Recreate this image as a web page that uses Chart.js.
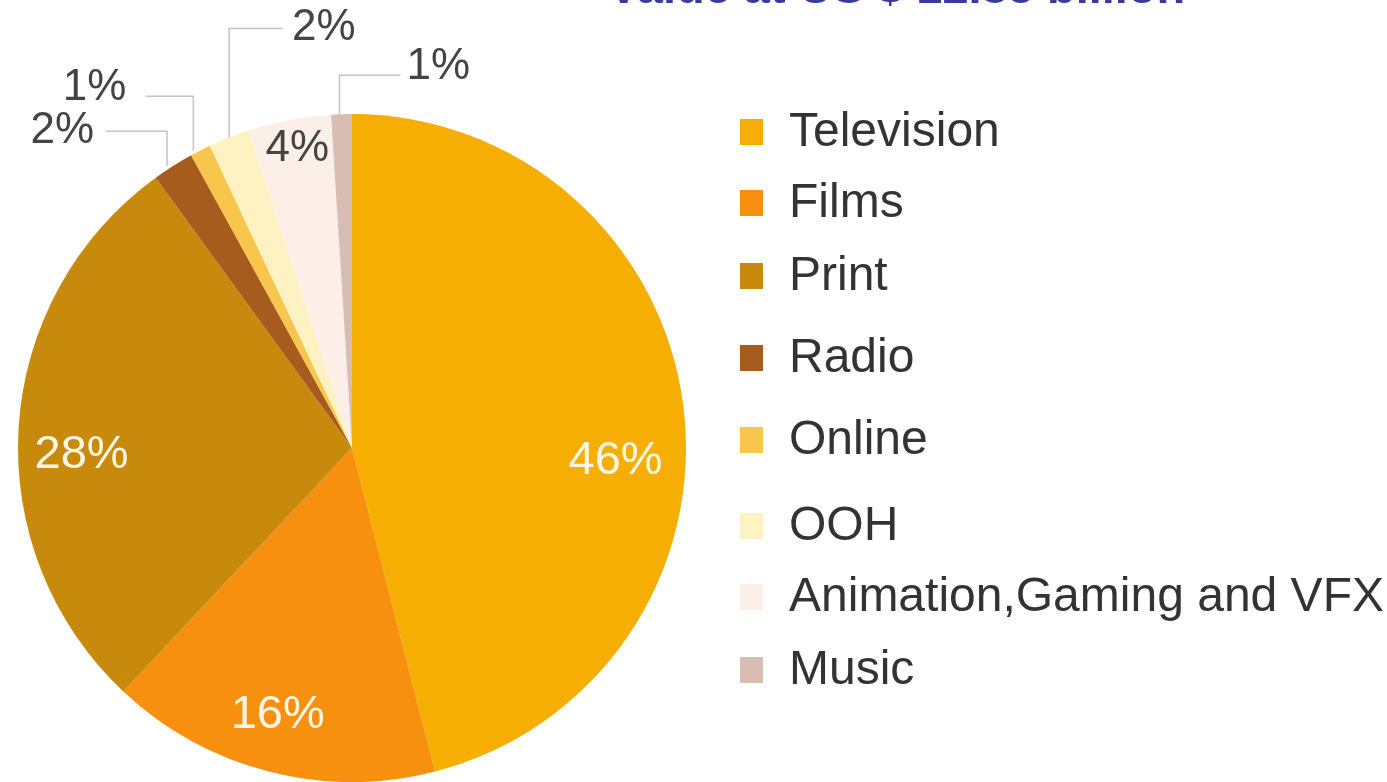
<!DOCTYPE html>
<html>
<head>
<meta charset="utf-8">
<script src="https://cdn.jsdelivr.net/npm/chart.js@4/dist/chart.umd.min.js"></script>
<style>
  html, body { margin: 0; padding: 0; background: #ffffff; }
  #wrap { position: relative; width: 1387px; height: 782px; overflow: hidden; }
</style>
</head>
<body>
<div id="wrap"><canvas id="mediaPie" width="1387" height="782"></canvas></div>
<script>
// --- Data ---
const titleText = 'Value at US $ 12.85 billion';
const categories = ['Television', 'Films', 'Print', 'Radio', 'Online', 'OOH', 'Animation,Gaming and VFX', 'Music'];
const shares = [46, 16, 28, 2, 1, 2, 4, 1];
const sliceColors = ['#f7ae02', '#f7900f', '#c88a0c', '#a65c1c', '#f8c64c', '#fff2c2', '#fbefe7', '#d8beb2'];

// --- Placement of slice labels (inside the pie) ---
const insideLabels = {
    0: { f: 0.56, r: 0.79, color: '#fff6e6' },
    1: { f: 0.52, r: 0.83, color: '#fff6e6' },
    2: { f: 0.45, r: 0.81, color: '#fff6e6' },
    6: { f: 0.53, r: 0.91, color: '#444444' }
};
// --- Leader-line labels (outside the pie) ---
const outsideLabels = {
    3: { ox: -6, elbow: -0.948, run: -61, tx: -12, ty: -1 },
    4: { ox: -7, elbow: -1.053, run: -48, tx: -19, ty: -8 },
    5: { ox: 0, elbow: -1.256, run: 54, tx: 9, ty: -1 },
    7: { ox: -2, elbow: -1.116, run: 61, tx: 6, ty: -8 }
};

const FONT = "'Liberation Sans', Arial, Helvetica, sans-serif";

// Title is partly cut off by the top edge in the original
const titlePlugin = {
    id: 'clippedTitle',
    afterDraw(chart) {
        const ctx = chart.ctx;
        ctx.save();
        ctx.font = 'bold 47px ' + FONT;
        ctx.fillStyle = '#3a3a9c';
        ctx.textAlign = 'left';
        ctx.textBaseline = 'alphabetic';
        ctx.fillText(titleText, 608, 3);
        ctx.restore();
    }
};

// Legend drawn by hand to keep the uneven row spacing
const legendRows = [132, 203, 276, 358, 440, 526, 597, 670];
const legendPlugin = {
    id: 'sideLegend',
    afterDraw(chart) {
        const ctx = chart.ctx;
        const colors = chart.data.datasets[0].backgroundColor;
        ctx.save();
        ctx.font = '48px ' + FONT;
        ctx.textBaseline = 'middle';
        ctx.textAlign = 'left';
        chart.data.labels.forEach((lab, i) => {
            const y = legendRows[i];
            ctx.fillStyle = colors[i];
            ctx.fillRect(740, y - 13, 23, 26);
            ctx.fillStyle = '#333333';
            ctx.fillText(lab, 789, y + 1);
        });
        ctx.restore();
    }
};

const sliceLabelPlugin = {
    id: 'sliceLabels',
    afterDatasetsDraw(chart) {
        const ctx = chart.ctx;
        const meta = chart.getDatasetMeta(0);
        const values = chart.data.datasets[0].data;
        ctx.save();
        ctx.textBaseline = 'middle';
        meta.data.forEach((arc, i) => {
            const p = arc.getProps(['x', 'y', 'startAngle', 'endAngle', 'outerRadius'], true);
            const text = values[i] + '%';
            if (insideLabels[i]) {
                const c = insideLabels[i];
                const a = p.startAngle + (p.endAngle - p.startAngle) * c.f;
                const lx = p.x + Math.cos(a) * p.outerRadius * c.r;
                const ly = p.y + Math.sin(a) * p.outerRadius * c.r;
                ctx.font = (i === 6 ? '44px ' : '47px ') + FONT;
                ctx.fillStyle = c.color;
                ctx.textAlign = 'center';
                ctx.fillText(text, lx, ly);
            } else if (outsideLabels[i]) {
                const c = outsideLabels[i];
                const a = (p.startAngle + p.endAngle) / 2;
                const ex = p.x + Math.cos(a) * p.outerRadius + c.ox;
                const ey = p.y + Math.sin(a) * p.outerRadius;
                const elbowY = p.y + c.elbow * p.outerRadius;
                ctx.strokeStyle = '#c4c4c4';
                ctx.lineWidth = 1.5;
                ctx.beginPath();
                ctx.moveTo(ex, ey);
                ctx.lineTo(ex, elbowY);
                ctx.lineTo(ex + c.run, elbowY);
                ctx.stroke();
                ctx.font = '44px ' + FONT;
                ctx.fillStyle = '#444444';
                ctx.textAlign = c.run < 0 ? 'right' : 'left';
                ctx.fillText(text, ex + c.run + c.tx, elbowY + c.ty);
            }
        });
        ctx.restore();
    }
};

new Chart(document.getElementById('mediaPie'), {
    type: 'pie',
    data: {
        labels: categories,
        datasets: [{
            data: shares,
            backgroundColor: sliceColors,
            borderWidth: 0
        }]
    },
    options: {
        responsive: false,
        animation: false,
        layout: { padding: { top: 114, bottom: 0, left: 17, right: 700 } },
        plugins: {
            legend: { display: false },
            tooltip: { enabled: false }
        }
    },
    plugins: [sliceLabelPlugin, legendPlugin, titlePlugin]
});
</script>
</body>
</html>
